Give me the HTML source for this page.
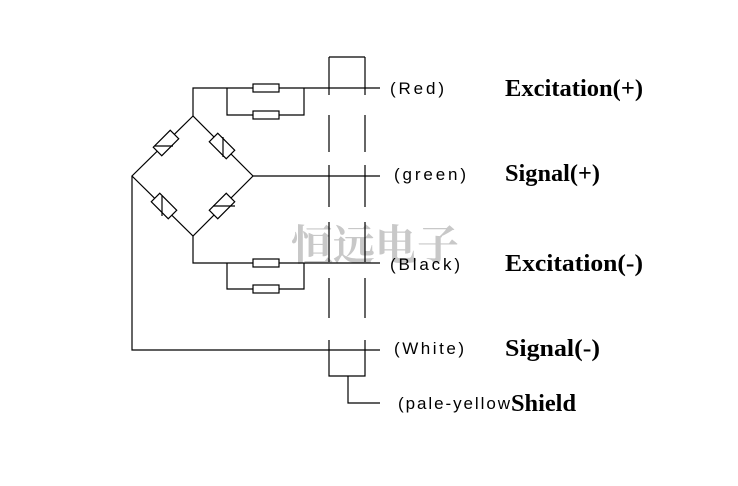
<!DOCTYPE html><html><head><style>body{margin:0;background:#fff}svg{display:block}</style></head><body>
<svg width="738" height="486" viewBox="0 0 738 486" xmlns="http://www.w3.org/2000/svg">
<rect width="738" height="486" fill="#fff"/>
<text x="375" y="260" font-family="Noto Serif CJK SC, serif" font-weight="bold" font-size="42" fill="#c8c8c8" text-anchor="middle">恒远电子</text>
<g stroke="#000" stroke-width="1.2" fill="none">
<path d="M193 116V88H380M227 88V115H304V88M193 236V263H380M227 263V289H304V263"/>
<rect x="253" y="84" width="26" height="8" fill="#fff"/><rect x="253" y="111" width="26" height="8" fill="#fff"/>
<rect x="253" y="259" width="26" height="8" fill="#fff"/><rect x="253" y="285" width="26" height="8" fill="#fff"/>
<path d="M193 116L132 176L193 236L253 176Z"/>
<path d="M253 176H380M132 176V350H380"/>
<path d="M329 57H365M329 57V95M365 57V95M329 115V152M365 115V152M329 165V207M365 165V207M329 222V262M365 222V262M329 278V318M365 278V318M329 340V376H365V340M348 376V403H380"/>
<g fill="#fff">
<rect x="-12" y="-6" width="24" height="12" transform="translate(166,143) rotate(-45)"/>
<rect x="-12" y="-6" width="24" height="12" transform="translate(222,146) rotate(45)"/>
<rect x="-12" y="-6" width="24" height="12" transform="translate(164,206) rotate(45)"/>
<rect x="-12" y="-6" width="24" height="12" transform="translate(222,206) rotate(-45)"/>
</g>
<path d="M155 146H173M223 137V157M162 196V216M213 206H235"/>
</g>
<g font-family="Liberation Sans, sans-serif" font-size="17" fill="#000">
<text x="390" y="94" textLength="54">(Red)</text><text x="394" y="180" textLength="72">(green)</text><text x="390" y="270" textLength="70">(Black)</text><text x="394" y="354" textLength="70">(White)</text><text x="398" y="409" textLength="112">(pale-yellow</text>
</g>
<g font-family="Liberation Serif, serif" font-weight="bold" font-size="24" fill="#000" lengthAdjust="spacingAndGlyphs">
<text x="505" y="96" textLength="138" lengthAdjust="spacingAndGlyphs">Excitation(+)</text><text x="505" y="181" textLength="95" lengthAdjust="spacingAndGlyphs">Signal(+)</text><text x="505" y="271" textLength="138" lengthAdjust="spacingAndGlyphs">Excitation(-)</text><text x="505" y="356" textLength="95" lengthAdjust="spacingAndGlyphs">Signal(-)</text><text x="511" y="411" textLength="65" lengthAdjust="spacingAndGlyphs">Shield</text>
</g>
</svg></body></html>
